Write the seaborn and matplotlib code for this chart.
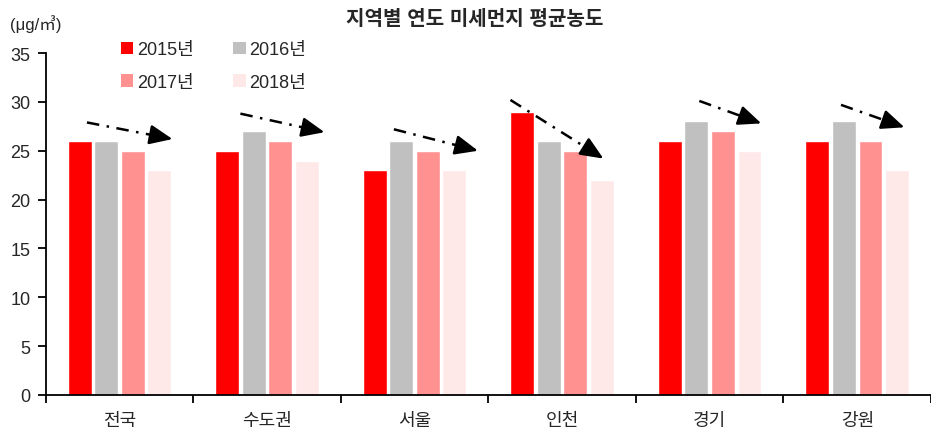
import matplotlib
matplotlib.use("Agg")
import matplotlib.pyplot as plt
from matplotlib.patches import Patch
import pandas as pd
import seaborn as sns

# Annual average fine-dust concentration by region
regions = ["전국", "수도권", "서울", "인천", "경기", "강원"]
years = ["2015년", "2016년", "2017년", "2018년"]
v2015 = [26, 25, 23, 29, 26, 26]
v2016 = [26, 27, 26, 26, 28, 28]
v2017 = [25, 26, 25, 25, 27, 26]
v2018 = [23, 24, 23, 22, 25, 23]
colors = ["#FF0000", "#C0C0C0", "#FF9191", "#FFE8E8"]

# Trend arrows per region: (x offset start, y start, x offset end, y end)
arrow_dx0 = [-0.22, -0.18, -0.14, -0.35, -0.07, -0.11]
arrow_y0 = [27.9, 28.8, 27.2, 30.2, 30.1, 29.7]
arrow_dx1 = [0.36, 0.39, 0.43, 0.28, 0.35, 0.32]
arrow_y1 = [26.2, 26.9, 25.0, 24.2, 27.8, 27.4]

rows = []
for yr, vals in zip(years, [v2015, v2016, v2017, v2018]):
    for r, v in zip(regions, vals):
        rows.append({"region": r, "year": yr, "value": v})
df = pd.DataFrame(rows)

sns.set_style("white")
plt.rcParams["font.family"] = ["Liberation Sans", "Noto Sans CJK KR", "DejaVu Sans"]

fig = plt.figure(figsize=(9.31, 4.35), dpi=100)
ax = fig.add_axes([0.049, 0.0897, 0.951, 0.786])

sns.barplot(data=df, x="region", y="value", hue="year", order=regions,
            hue_order=years, palette=colors, width=0.72, gap=0.1,
            saturation=1, legend=False, ax=ax)

# Dash-dot trend line with a solid filled arrowhead at the end
for i in range(len(regions)):
    x0, y0 = i + arrow_dx0[i], arrow_y0[i]
    x1, y1 = i + arrow_dx1[i], arrow_y1[i]
    xm, ym = x0 + 0.8 * (x1 - x0), y0 + 0.8 * (y1 - y0)
    ax.plot([x0, xm], [y0, ym], color="black", lw=1.8,
            linestyle=(0, (5, 3, 1, 3)), solid_capstyle="butt")
    ax.annotate("", xy=(x1, y1), xytext=(xm, ym),
                arrowprops=dict(arrowstyle="-|>,head_length=1.4,head_width=0.6",
                                color="black", lw=1.8, shrinkA=0, shrinkB=0))

ax.set_xlim(-0.5, len(regions) - 0.5)
ax.set_ylim(0, 35)
ax.set_yticks(range(0, 36, 5))
ax.set_xlabel("")
ax.set_ylabel("")

# Category boundaries carry the x tick marks; labels sit at centres
ax.set_xticks([i - 0.5 for i in range(len(regions) + 1)], minor=False)
ax.set_xticklabels([])
ax.set_xticks(range(len(regions)), minor=True)
ax.set_xticklabels(regions, minor=True, fontsize=13)
ax.tick_params(axis="x", which="major", bottom=True, direction="out", length=6,
               width=1.3, color="black")
ax.tick_params(axis="x", which="minor", bottom=False, length=0, pad=12)
ax.tick_params(axis="y", left=True, direction="out", length=6, width=1.3,
               color="black", labelsize=13, pad=5)

for s in ["top", "right"]:
    ax.spines[s].set_visible(False)
for s in ["left", "bottom"]:
    ax.spines[s].set_color("black")
    ax.spines[s].set_linewidth(1.3)

handles = [Patch(facecolor=c, edgecolor="none") for c in colors]
order = [0, 2, 1, 3]
fig.legend([handles[i] for i in order], [years[i] for i in order],
           ncol=2, loc="upper left", bbox_to_anchor=(0.112, 0.94),
           frameon=False, fontsize=13, handlelength=0.7, handleheight=0.7,
           handletextpad=0.2, columnspacing=2.2, labelspacing=0.85)

fig.text(0.51, 0.955, "지역별 연도 미세먼지 평균농도", ha="center", va="center",
         fontsize=14.5, fontweight="bold")
fig.text(0.011, 0.945, "(μg/㎥)", ha="left", va="center", fontsize=12)

fig.savefig("out.png", dpi=100)
